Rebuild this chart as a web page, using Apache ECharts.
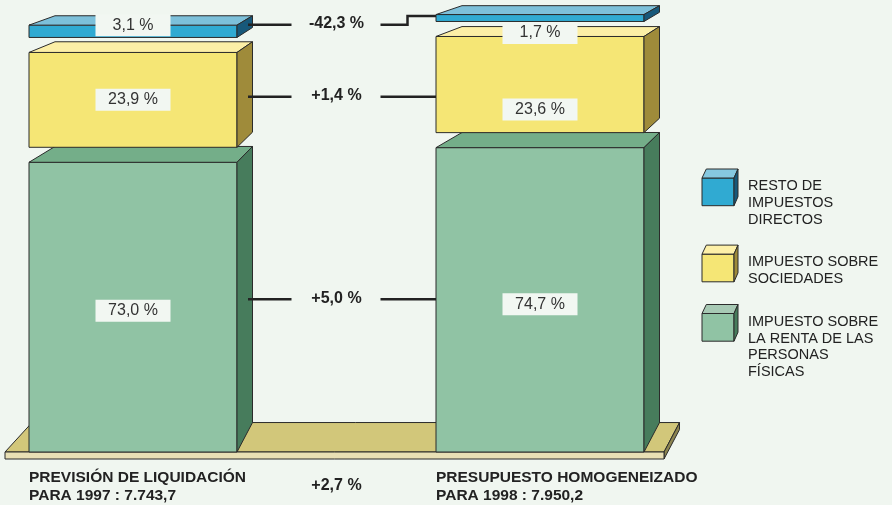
<!DOCTYPE html>
<html>
<head>
<meta charset="utf-8">
<script src="https://cdn.jsdelivr.net/npm/echarts@6/dist/echarts.min.js"></script>
<style>
  html, body { margin: 0; padding: 0; background: #f0f6f0; }
  #chart { width: 892px; height: 505px; }
</style>
</head>
<body>
<div id="chart"></div>
<script>
// Impuestos directos: estructura de la recaudación 1997 / 1998 (importes en miles de millones)
const periods = ['PREVISIÓN DE LIQUIDACIÓN\nPARA 1997 : 7.743,7', 'PRESUPUESTO HOMOGENEIZADO\nPARA 1998 : 7.950,2'];
const periodTotals = [7743.7, 7950.2];
const taxNames = ['IMPUESTO SOBRE\nLA RENTA DE LAS\nPERSONAS\nFÍSICAS', 'IMPUESTO SOBRE\nSOCIEDADES', 'RESTO DE\nIMPUESTOS\nDIRECTOS'];
const share1997 = [73.0, 23.9, 3.1];
const share1998 = [74.7, 23.6, 1.7];
const taxChange = ['+5,0 %', '+1,4 %', '-42,3 %'];
const totalChange = '+2,7 %';

// ---- styling ----
const FONT = '"Liberation Sans", Arial, Helvetica, sans-serif';
const BG = '#f0f6f0';
const EDGE = '#2b2b2b';
const palette = [
  { front: '#90c3a4', top: '#74ae89', side: '#477c5c', legendTop: '#a7c9b4' },
  { front: '#f5e675', top: '#fcefa6', side: '#9f8b3a', legendTop: '#fdf0a8' },
  { front: '#30aad2', top: '#7dc0da', side: '#17587a', legendTop: '#86c8e0' }
];
const BAR_W = 208;       // front face width (px)
const GAP = 15;          // vertical gap between stacked blocks (px)
const DX_L = 26, DX_R = 15.5;   // receding offsets of the left / right edges
const depthAt = y => 8.2 + 0.047 * y;  // receding height grows toward the floor
// label box shift from the block's front-face centre [period 1997, period 1998]
const labelShift = [[3.5, 4.5], [0, 25], [-6, 15]];
const connectorShift = [-8, -3, -6.5];

const pct = v => v.toFixed(1).replace('.', ',') + ' %';

function blockShapes(x0, x1, yT, yB, c) {
  const dT = depthAt(yT), dB = depthAt(yB);
  return [
    { type: 'polygon', shape: { points: [[x0, yT], [x1, yT], [x1, yB], [x0, yB]] },
      style: { fill: c.front, stroke: EDGE, lineWidth: 1 } },
    { type: 'polygon', shape: { points: [[x0, yT], [x1, yT], [x1 + DX_R, yT - dT], [x0 + DX_L, yT - dT]] },
      style: { fill: c.top, stroke: EDGE, lineWidth: 1 } },
    { type: 'polygon', shape: { points: [[x1, yT], [x1 + DX_R, yT - dT], [x1 + DX_R, yB - dB], [x1, yB]] },
      style: { fill: c.side, stroke: EDGE, lineWidth: 1 } }
  ];
}

function renderLayer(params, api) {
  const i = params.dataIndex;
  const c = palette[i];
  const children = [];
  const boxes = [];
  [share1997, share1998].forEach((shares, b) => {
    const tot = periodTotals[b];
    let base = 0;
    for (let k = 0; k < i; k++) base += shares[k] * tot / 100;
    const amount = shares[i] * tot / 100;
    const pBot = api.coord([b, base]);
    const pTop = api.coord([b, base + amount]);
    const x0 = pBot[0] - BAR_W / 2, x1 = pBot[0] + BAR_W / 2;
    const yB = pBot[1] - GAP * i, yT = pTop[1] - GAP * i;
    boxes.push({ x0, x1, yT, yB, cx: pBot[0], cy: (yT + yB) / 2 });
    children.push(...blockShapes(x0, x1, yT, yB, c));
    const ly = (yT + yB) / 2 + labelShift[i][b];
    children.push({ type: 'rect', shape: { x: pBot[0] - 37.5, y: ly - 11, width: 75, height: 22 },
      style: { fill: '#f2f7f2' } });
    children.push({ type: 'text', style: { text: pct(shares[i]), x: pBot[0], y: ly,
      align: 'center', verticalAlign: 'middle', fontSize: 16, fontFamily: FONT, fill: '#333' } });
  });

  // connector with the year-on-year change
  const L = boxes[0], R = boxes[1];
  const yLine = L.cy + connectorShift[i];
  const midX = (L.cx + R.cx) / 2;
  const leftStart = L.x1 + 11;
  children.push({ type: 'polyline', shape: { points: [[leftStart, yLine], [midX - 45, yLine]] },
    style: { stroke: '#222', lineWidth: 2.5, fill: null } });
  let rightPts;
  if (yLine >= R.yT + 2 && yLine <= R.yB - 2) {
    rightPts = [[midX + 44, yLine], [R.x0, yLine]];
  } else {
    const yR = R.cy - 2;
    const stepX = midX + 71;
    rightPts = [[midX + 44, yLine], [stepX, yLine], [stepX, yR], [R.x0, yR]];
  }
  children.push({ type: 'polyline', shape: { points: rightPts },
    style: { stroke: '#222', lineWidth: 2.5, fill: null } });
  children.push({ type: 'text', style: { text: taxChange[i], x: midX, y: yLine - 1,
    align: 'center', verticalAlign: 'middle', fontSize: 16, fontWeight: 'bold', fontFamily: FONT, fill: '#222' } });

  return { type: 'group', children };
}

function renderFloor(params, api) {
  const pL = api.coord([0, 0]);
  const pR = api.coord([1, 0]);
  const y = pL[1];
  const d = depthAt(y);
  const fx0 = pL[0] - BAR_W / 2 - 24;
  const fx1 = pR[0] + BAR_W / 2 + 20;
  const thick = 7;
  const children = [
    { type: 'polygon', shape: { points: [[fx0, y], [fx1, y], [fx1 + DX_R, y - d], [fx0 + 27, y - d]] },
      style: { fill: '#d2c77a', stroke: EDGE, lineWidth: 1 } },
    { type: 'polygon', shape: { points: [[fx1, y], [fx1 + DX_R, y - d], [fx1 + DX_R, y - d + thick], [fx1, y + thick]] },
      style: { fill: '#8c8450', stroke: EDGE, lineWidth: 1 } },
    { type: 'rect', shape: { x: fx0, y: y, width: fx1 - fx0, height: thick },
      style: { fill: '#e9e0b5', stroke: EDGE, lineWidth: 1 } }
  ];
  [pL, pR].forEach((p, b) => {
    children.push({ type: 'text', style: { text: periods[b], x: p[0] - BAR_W / 2, y: y + 16.5,
      align: 'left', verticalAlign: 'top', fontSize: 15.5, lineHeight: 18, fontWeight: 'bold',
      fontFamily: FONT, fill: '#222' } });
  });
  children.push({ type: 'text', style: { text: totalChange, x: (pL[0] + pR[0]) / 2, y: y + 33.5,
    align: 'center', verticalAlign: 'middle', fontSize: 16, fontWeight: 'bold', fontFamily: FONT, fill: '#222' } });
  return { type: 'group', children };
}

// legend: small cubes, top to bottom in stacking order
function legendGraphics() {
  const els = [];
  let top = 178;
  for (let i = taxNames.length - 1; i >= 0; i--) {
    const c = palette[i];
    const x0 = 702, x1 = 734, yT = top, yB = top + 27.7, d = 9;
    els.push({ type: 'polygon', shape: { points: [[x0, yT], [x1, yT], [x1, yB], [x0, yB]] },
      style: { fill: c.front, stroke: EDGE, lineWidth: 1 } });
    els.push({ type: 'polygon', shape: { points: [[x0, yT], [x1, yT], [x1 + 4, yT - d], [x0 + 4.3, yT - d]] },
      style: { fill: c.legendTop, stroke: EDGE, lineWidth: 1 } });
    els.push({ type: 'polygon', shape: { points: [[x1, yT], [x1 + 4, yT - d], [x1 + 4, yB - d], [x1, yB]] },
      style: { fill: c.side, stroke: EDGE, lineWidth: 1 } });
    els.push({ type: 'text', style: { text: taxNames[i], x: 748, y: top, verticalAlign: 'top',
      fontSize: 14.5, lineHeight: 16.7, fontFamily: FONT, fill: '#222' } });
    const lines = taxNames[i].split('\n').length;
    top += lines * 16.7 + 26;
  }
  return els;
}

const chart = echarts.init(document.getElementById('chart'), null, { renderer: 'canvas' });
chart.setOption({
  backgroundColor: BG,
  animation: false,
  grid: { left: 133, right: 352, top: 42, bottom: 53 },
  xAxis: { type: 'category', data: periods, boundaryGap: false, show: false },
  yAxis: { type: 'value', min: 0, max: 8000, show: false },
  series: [
    { type: 'custom', renderItem: renderFloor, data: [[0, 0]], clip: false, z: 1 },
    { type: 'custom', renderItem: renderLayer, clip: false, z: 2,
      data: taxNames.map((n, i) => ({ name: n, value: [0, share1997[i], share1998[i]] })),
      encode: { x: 0, y: 1 } }
  ],
  graphic: legendGraphics()
});
</script>
</body>
</html>
